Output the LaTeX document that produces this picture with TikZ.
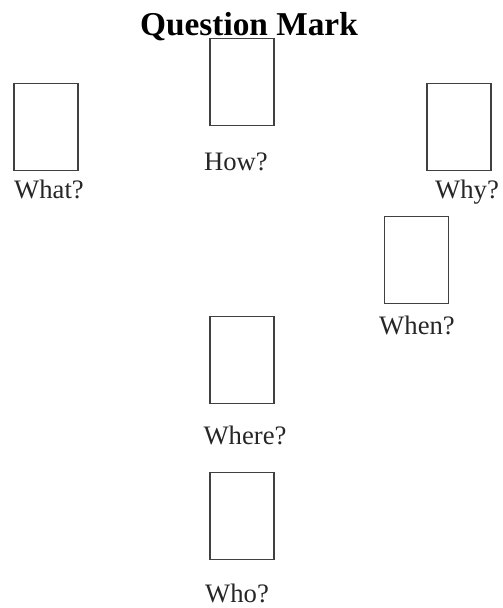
\documentclass[tikz,border=0pt]{standalone}
\usepackage{fontspec}
\setmainfont{Liberation Serif}
\usetikzlibrary{positioning}

\tikzset{
  card/.style={draw=black!75, line width=0.8pt, minimum width=48pt, minimum height=65pt, inner sep=0pt},
  word/.style={font=\fontsize{20}{24}\selectfont, text=black!85, anchor=base},
}

\begin{document}
\begin{tikzpicture}[x=0.75pt, y=-0.75pt]
  \useasboundingbox (0,0) rectangle (503,608);

  % === 标题 ===
  \node[anchor=base, font=\bfseries\fontsize{25}{30}\selectfont] (title) at (249,35) {Question Mark};

  % === 六张卡片（空白矩形）===
  % 名称 / 中心 x / 中心 y（像素坐标，y 向下）
  \foreach \name/\bx/\by in {how/242/82, what/46/127, why/459/127,
                             when/416.5/260, where/242/360, who/242/516} {
    \node[card] (\name) at (\bx,\by) {};
  }

  % === 卡片下方的问句 ===
  % 名称 / 基线 x / 基线 y / 文字
  \foreach \name/\lx/\ly/\txt in {how/236/170/How?, what/49/198/What?, why/467/198/Why?,
                                  when/417/334/When?, where/245/444/Where?, who/237/602/Who?} {
    \node[word] (\name lbl) at (\lx,\ly) {\txt};
  }
\end{tikzpicture}
\end{document}
